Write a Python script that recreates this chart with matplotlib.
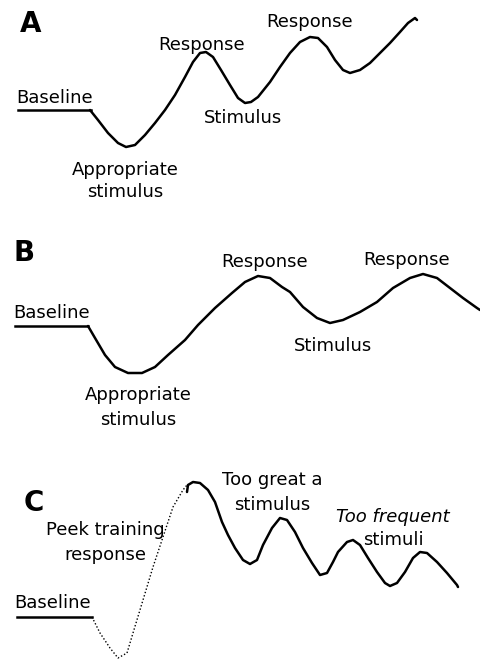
import numpy as np
import matplotlib
matplotlib.use("Agg")
import matplotlib.pyplot as plt

plt.rcParams['font.family'] = ['DejaVu Sans']

# values: x = time (px across), y = level relative to baseline (up = positive)
# panel A
a_base_x = [18, 91]
a_base_y = [0, 0]
a_x = [90, 98, 108, 118, 126, 135, 145, 155, 165, 175, 185, 193, 200, 206, 213,
       221, 230, 238, 245, 251, 258, 270, 280, 290, 300, 310, 318, 327, 335, 343,
       350, 360, 370, 380, 390, 400, 408, 415, 417]
a_y = [0, -10, -23, -33, -37, -35, -25, -13, 0, 15, 33, 48, 57, 58, 53,
       40, 25, 12, 7, 8, 13, 28, 43, 57, 68, 73, 72, 63, 50, 40,
       37, 40, 47, 57, 67, 78, 87, 92, 90]

# panel B
b_base_x = [15, 88]
b_base_y = [0, 0]
b_x = [88, 95, 105, 115, 128, 142, 155, 168, 185, 198, 215, 232, 245, 258, 270,
       282, 290, 303, 317, 330, 343, 360, 377, 393, 410, 423, 437, 450, 463, 477, 480]
b_y = [0, -12, -29, -41, -47, -47, -41, -29, -14, 1, 18, 33, 44, 50, 48,
       39, 34, 19, 8, 3, 6, 14, 24, 38, 48, 52, 48, 38, 28, 18, 16]

# panel C
c_base_x = [17, 92]
c_base_y = [0, 0]
c_dot_x = [92, 100, 110, 118, 127, 133, 143, 153, 163, 173, 183, 187]
c_dot_y = [0, -16, -31, -41, -36, -16, 17, 50, 80, 110, 127, 132]
c_x = [187, 188, 193, 200, 208, 215, 222, 228, 235, 243, 250, 257, 263, 272, 280,
       287, 295, 303, 312, 320, 327, 333, 338, 347, 353, 360, 368, 377, 385, 390,
       397, 405, 413, 420, 427, 437, 447, 457, 458]
c_y = [125, 132, 135, 134, 127, 115, 95, 82, 69, 57, 53, 57, 72, 89, 99,
       97, 85, 69, 54, 42, 44, 55, 65, 75, 77, 72, 59, 45, 34, 31,
       34, 45, 59, 65, 64, 55, 44, 32, 30]

W, H = 480, 663
fig = plt.figure(figsize=(4.8, 6.63), dpi=100)


def panel(top, bottom, base):
    ax = fig.add_axes([0, 1 - bottom / H, 1, (bottom - top) / H])
    ax.set_xlim(0, W)
    ax.set_ylim(base - bottom, base - top)
    ax.axis('off')
    return ax


fs = 13
lw = 1.8
kw = dict(solid_joinstyle='round', solid_capstyle='round')

# A
ax = panel(0, 220, 110)
ax.plot(a_base_x, a_base_y, 'k', lw=lw)
ax.plot(a_x, a_y, 'k', lw=lw, **kw)
ax.text(20, 86, 'A', fontsize=20, fontweight='bold', va='center', ha='left')
ax.text(202, 65, 'Response', fontsize=fs, ha='center', va='center')
ax.text(310, 88, 'Response', fontsize=fs, ha='center', va='center')
ax.text(55, 12, 'Baseline', fontsize=fs, ha='center', va='center')
ax.text(243, -8, 'Stimulus', fontsize=fs, ha='center', va='center')
ax.text(125, -60, 'Appropriate', fontsize=fs, ha='center', va='center')
ax.text(125, -82, 'stimulus', fontsize=fs, ha='center', va='center')

# B
ax = panel(220, 440, 326)
ax.plot(b_base_x, b_base_y, 'k', lw=lw)
ax.plot(b_x, b_y, 'k', lw=lw, **kw)
ax.text(14, 73, 'B', fontsize=20, fontweight='bold', va='center', ha='left')
ax.text(265, 64, 'Response', fontsize=fs, ha='center', va='center')
ax.text(407, 66, 'Response', fontsize=fs, ha='center', va='center')
ax.text(52, 13, 'Baseline', fontsize=fs, ha='center', va='center')
ax.text(333, -20, 'Stimulus', fontsize=fs, ha='center', va='center')
ax.text(138, -69, 'Appropriate', fontsize=fs, ha='center', va='center')
ax.text(138, -94, 'stimulus', fontsize=fs, ha='center', va='center')

# C
ax = panel(440, 663, 617)
ax.plot(c_base_x, c_base_y, 'k', lw=lw)
ax.plot(c_dot_x, c_dot_y, 'k', lw=1.0, ls=(0, (1, 1.5)))
ax.plot(c_x, c_y, 'k', lw=lw, **kw)
ax.text(24, 114, 'C', fontsize=20, fontweight='bold', va='center', ha='left')
ax.text(272, 137, 'Too great a', fontsize=fs, ha='center', va='center')
ax.text(272, 112, 'stimulus', fontsize=fs, ha='center', va='center')
ax.text(393, 100, 'Too frequent', fontsize=fs, ha='center', va='center', style='italic')
ax.text(393, 77, 'stimuli', fontsize=fs, ha='center', va='center')
ax.text(105, 87, 'Peek training', fontsize=fs, ha='center', va='center')
ax.text(105, 62, 'response', fontsize=fs, ha='center', va='center')
ax.text(53, 14, 'Baseline', fontsize=fs, ha='center', va='center')

fig.savefig('out.png', dpi=100)
